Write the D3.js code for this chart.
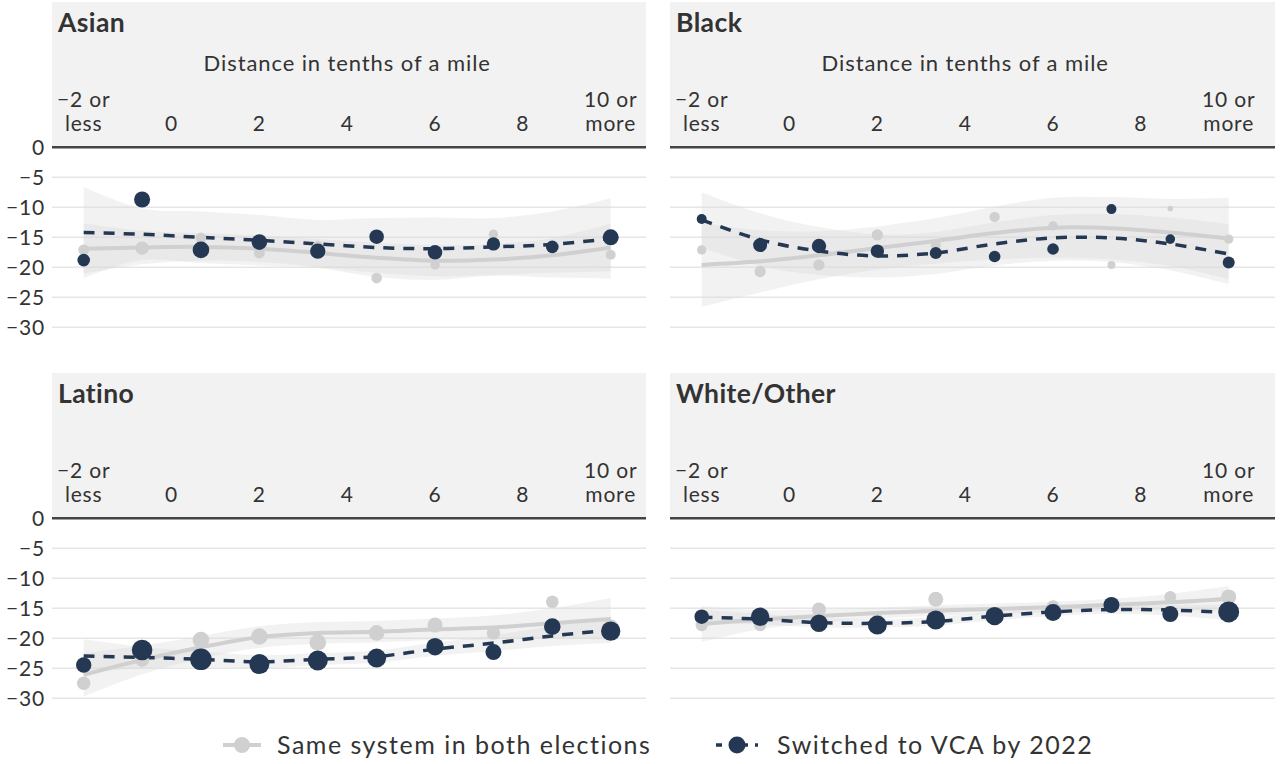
<!DOCTYPE html>
<html>
<head>
<meta charset="utf-8">
<script src="https://cdn.jsdelivr.net/npm/d3@7"></script>
<style>
  body { margin: 0; background: #fff; }
  text { font-family: Lato, "Open Sans", sans-serif; fill: #333; }
</style>
</head>
<body>
<svg id="chart" width="1280" height="764"></svg>
<script>
// ---- data -------------------------------------------------------------
const groups      = ['Asian', 'Black', 'Latino', 'White/Other'];
const xBins       = [-2, -0.67, 0.67, 2, 3.33, 4.67, 6, 7.33, 8.67, 10];
const xTicks      = [-2, 0, 2, 4, 6, 8, 10];
const xTickLabels = [['−2 or', 'less'], ['0'], ['2'], ['4'], ['6'], ['8'], ['10 or', 'more']];
const yTicks      = [0, -5, -10, -15, -20, -25, -30];
const seriesNames = ['Same system in both elections', 'Switched to VCA by 2022'];

// Asian
const asianSame     = [-17.1, -16.8, -15.1, -17.6, -16.5, -21.8, -19.6, -14.5, -16.8, -17.9];
const asianSameN    = [30, 45, 28, 30, 30, 28, 22, 22, 20, 25];
const asianSameFit  = [-16.9, -16.7, -16.6, -16.9, -17.6, -18.4, -18.9, -18.7, -18.0, -16.7];
const asianSameCI   = [4.2, 2.8, 2.3, 2.2, 2.3, 2.5, 2.6, 2.6, 2.9, 4.0];
const asianVca      = [-18.8, -8.7, -17.1, -15.8, -17.3, -14.9, -17.5, -16.1, -16.6, -15.0];
const asianVcaN     = [40, 64, 69, 61, 59, 53, 52, 45, 40, 64];
const asianVcaFit   = [-14.2, -14.5, -15.0, -15.5, -16.1, -16.7, -16.9, -16.6, -16.2, -15.2];
const asianVcaCI    = [7.6, 4.3, 4.3, 4.2, 4.0, 4.9, 5.2, 4.8, 5.5, 6.7];

// Black
const blackSame     = [-17.1, -20.7, -19.6, -14.6, -16.3, -11.6, -13.1, -19.6, -10.2, -15.3];
const blackSameN    = [22, 32, 32, 32, 25, 27, 22, 16, 8, 22];
const blackSameFit  = [-19.6, -19.0, -18.0, -16.8, -15.6, -14.3, -13.4, -13.5, -14.2, -15.2];
const blackSameCI   = [7.0, 5.2, 4.0, 3.6, 3.8, 4.4, 5.0, 5.2, 5.6, 6.8];
const blackVca      = [-11.95, -16.3, -16.45, -17.3, -17.6, -18.2, -16.95, -10.3, -15.3, -19.2];
const blackVcaN     = [25, 49, 52, 45, 36, 34, 34, 25, 23, 36];
const blackVcaFit   = [-12.1, -15.4, -17.3, -18.1, -17.6, -16.1, -15.1, -15.1, -16.1, -17.8];
const blackVcaCI    = [4.6, 4.4, 4.0, 3.6, 3.5, 3.6, 3.8, 4.0, 4.4, 5.0];

// Latino
const latinoSame    = [-27.5, -23.6, -20.3, -19.7, -20.7, -19.1, -17.8, -19.1, -13.9, -18.2];
const latinoSameN   = [45, 49, 69, 69, 69, 61, 56, 45, 40, 64];
const latinoSameFit = [-26.1, -23.6, -21.5, -19.8, -19.1, -18.9, -18.5, -18.2, -17.5, -16.8];
const latinoSameCI  = [3.6, 2.4, 1.9, 1.8, 1.8, 1.8, 1.8, 2.0, 2.5, 3.5];
const latinoVca     = [-24.45, -21.95, -23.5, -24.3, -23.7, -23.3, -21.4, -22.3, -18.05, -18.8];
const latinoVcaN    = [59, 106, 117, 100, 100, 90, 76, 64, 69, 94];
const latinoVcaFit  = [-22.95, -23.2, -23.5, -23.9, -23.5, -23.05, -21.8, -20.8, -19.6, -18.6];
const latinoVcaCI   = [2.8, 1.8, 1.3, 1.1, 1.0, 1.0, 1.1, 1.3, 1.7, 2.2];

// White/Other
const whiteSame     = [-17.8, -17.8, -15.2, -17.0, -13.5, -16.0, -14.7, -14.2, -13.1, -13.1];
const whiteSameN    = [38, 38, 49, 40, 56, 40, 40, 36, 36, 56];
const whiteSameFit  = [-17.6, -16.9, -16.3, -15.8, -15.4, -15.1, -14.8, -14.4, -14.0, -13.4];
const whiteSameCI   = [3.0, 1.6, 1.1, 0.9, 0.9, 0.9, 0.9, 1.0, 1.4, 2.1];
const whiteVca      = [-16.4, -16.4, -17.5, -17.8, -16.95, -16.3, -15.7, -14.45, -15.95, -15.6];
const whiteVcaN     = [53, 85, 77, 90, 90, 85, 72, 64, 64, 110];
const whiteVcaFit   = [-16.5, -16.8, -17.4, -17.5, -17.2, -16.3, -15.6, -15.2, -15.3, -15.7];
const whiteVcaCI    = [1.2, 0.9, 0.8, 0.7, 0.7, 0.7, 0.7, 0.7, 0.9, 1.3];

// ---- layout -----------------------------------------------------------
const GRAY = '#d0d0d0';
const NAVY = '#253853';

const panels = [
  { name: groups[0], col: 0, row: 0, showTitle: true,
    same: { pts: asianSame, n: asianSameN, fit: asianSameFit, ci: asianSameCI },
    vca:  { pts: asianVca,  n: asianVcaN,  fit: asianVcaFit,  ci: asianVcaCI } },
  { name: groups[1], col: 1, row: 0, showTitle: true,
    same: { pts: blackSame, n: blackSameN, fit: blackSameFit, ci: blackSameCI },
    vca:  { pts: blackVca,  n: blackVcaN,  fit: blackVcaFit,  ci: blackVcaCI } },
  { name: groups[2], col: 0, row: 1, showTitle: false,
    same: { pts: latinoSame, n: latinoSameN, fit: latinoSameFit, ci: latinoSameCI },
    vca:  { pts: latinoVca,  n: latinoVcaN,  fit: latinoVcaFit,  ci: latinoVcaCI } },
  { name: groups[3], col: 1, row: 1, showTitle: false,
    same: { pts: whiteSame, n: whiteSameN, fit: whiteSameFit, ci: whiteSameCI },
    vca:  { pts: whiteVca,  n: whiteVcaN,  fit: whiteVcaFit,  ci: whiteVcaCI } }
];

const cols = [{ x0: 52, x1: 646 }, { x0: 670, x1: 1275 }];
const rows = [{ top: 2, axisY: 147.3 }, { top: 373, axisY: 518.3 }];

const svg = d3.select('#chart');
const r   = d3.scaleSqrt().domain([0, 100]).range([0, 10]);

panels.forEach(p => {
  const { x0, x1 } = cols[p.col];
  const { top, axisY } = rows[p.row];
  const x = d3.scaleLinear().domain([-2, 10]).range([x0 + 31.7, x0 + 558.7]);
  const y = d3.scaleLinear().domain([0, -30]).range([axisY, axisY + 180]);
  const g = svg.append('g');

  // header strip
  g.append('rect')
    .attr('x', x0).attr('y', top)
    .attr('width', x1 - x0).attr('height', axisY - top)
    .attr('fill', '#f2f2f2');

  g.append('text')
    .attr('x', x0 + 6).attr('y', top + 29.5)
    .attr('font-size', 26.5).attr('font-weight', 700)
    .attr('letter-spacing', 0.4)
    .text(p.name);

  if (p.showTitle) {
    g.append('text')
      .attr('x', (x(-2) + x(10)) / 2).attr('y', top + 69)
      .attr('text-anchor', 'middle').attr('font-size', 22)
      .attr('letter-spacing', 0.9)
      .text('Distance in tenths of a mile');
  }

  // x tick labels, two lines where needed
  g.selectAll('text.xtick')
    .data(xTicks)
    .join('text')
      .attr('class', 'xtick')
      .attr('text-anchor', 'middle')
      .attr('font-size', 21)
      .attr('letter-spacing', 0.8)
      .each(function (d, i) {
        const lines = xTickLabels[i];
        d3.select(this).selectAll('tspan')
          .data(lines)
          .join('tspan')
            .attr('x', x(d))
            .attr('y', (l, j) => axisY - 16 - (lines.length - 1 - j) * 24)
            .text(l => l);
      });

  // gridlines
  g.selectAll('line.grid')
    .data(yTicks.slice(1))
    .join('line')
      .attr('x1', x0).attr('x2', x1)
      .attr('y1', d => y(d)).attr('y2', d => y(d))
      .attr('stroke', '#e6e6e6').attr('stroke-width', 1.5);

  g.append('line')
    .attr('x1', x0).attr('x2', x1)
    .attr('y1', axisY).attr('y2', axisY)
    .attr('stroke', '#444').attr('stroke-width', 2.5);

  if (p.col === 0) {
    g.selectAll('text.ytick')
      .data(yTicks)
      .join('text')
        .attr('x', 45).attr('y', d => y(d))
        .attr('dy', '0.35em')
        .attr('text-anchor', 'end').attr('font-size', 21)
        .attr('letter-spacing', 0.8)
        .attr('fill', '#444')
        .text(d => d3.format('d')(d));
  }

  // confidence bands
  const band = s => d3.area()
    .x((d, i) => x(xBins[i]))
    .y0((d, i) => y(d - s.ci[i]))
    .y1((d, i) => y(d + s.ci[i]))
    .curve(d3.curveCatmullRom)(s.fit);

  [p.same, p.vca].forEach(s => {
    g.append('path')
      .attr('d', band(s))
      .attr('fill', '#d9d9d9').attr('fill-opacity', 0.35);
  });

  const line = d3.line()
    .x((d, i) => x(xBins[i]))
    .y(d => y(d))
    .curve(d3.curveCatmullRom);

  g.append('path')
    .attr('d', line(p.same.fit))
    .attr('fill', 'none').attr('stroke', GRAY).attr('stroke-width', 4);

  g.append('path')
    .attr('d', line(p.vca.fit))
    .attr('fill', 'none').attr('stroke', NAVY).attr('stroke-width', 3.5)
    .attr('stroke-dasharray', '11,9');

  g.selectAll('circle.same')
    .data(p.same.pts)
    .join('circle')
      .attr('cx', (d, i) => x(xBins[i]))
      .attr('cy', d => y(d))
      .attr('r', (d, i) => r(p.same.n[i]))
      .attr('fill', GRAY);

  g.selectAll('circle.vca')
    .data(p.vca.pts)
    .join('circle')
      .attr('cx', (d, i) => x(xBins[i]))
      .attr('cy', d => y(d))
      .attr('r', (d, i) => r(p.vca.n[i]))
      .attr('fill', NAVY);
});

// ---- legend -----------------------------------------------------------
const legend = svg.append('g').attr('transform', 'translate(0,745)');

legend.append('line')
  .attr('x1', 223).attr('x2', 261).attr('y1', 0).attr('y2', 0)
  .attr('stroke', GRAY).attr('stroke-width', 4);
legend.append('circle').attr('cx', 242).attr('cy', 0).attr('r', 8).attr('fill', GRAY);
legend.append('text')
  .attr('x', 277).attr('y', 0).attr('dy', '0.35em')
  .attr('font-size', 25).attr('letter-spacing', 1.5)
  .text(seriesNames[0]);

legend.append('line')
  .attr('x1', 716).attr('x2', 758).attr('y1', 0).attr('y2', 0)
  .attr('stroke', NAVY).attr('stroke-width', 3.5)
  .attr('stroke-dasharray', '6,7');
legend.append('circle').attr('cx', 737).attr('cy', 0).attr('r', 8.5).attr('fill', NAVY);
legend.append('text')
  .attr('x', 777).attr('y', 0).attr('dy', '0.35em')
  .attr('font-size', 25).attr('letter-spacing', 1.5)
  .text(seriesNames[1]);
</script>
</body>
</html>
